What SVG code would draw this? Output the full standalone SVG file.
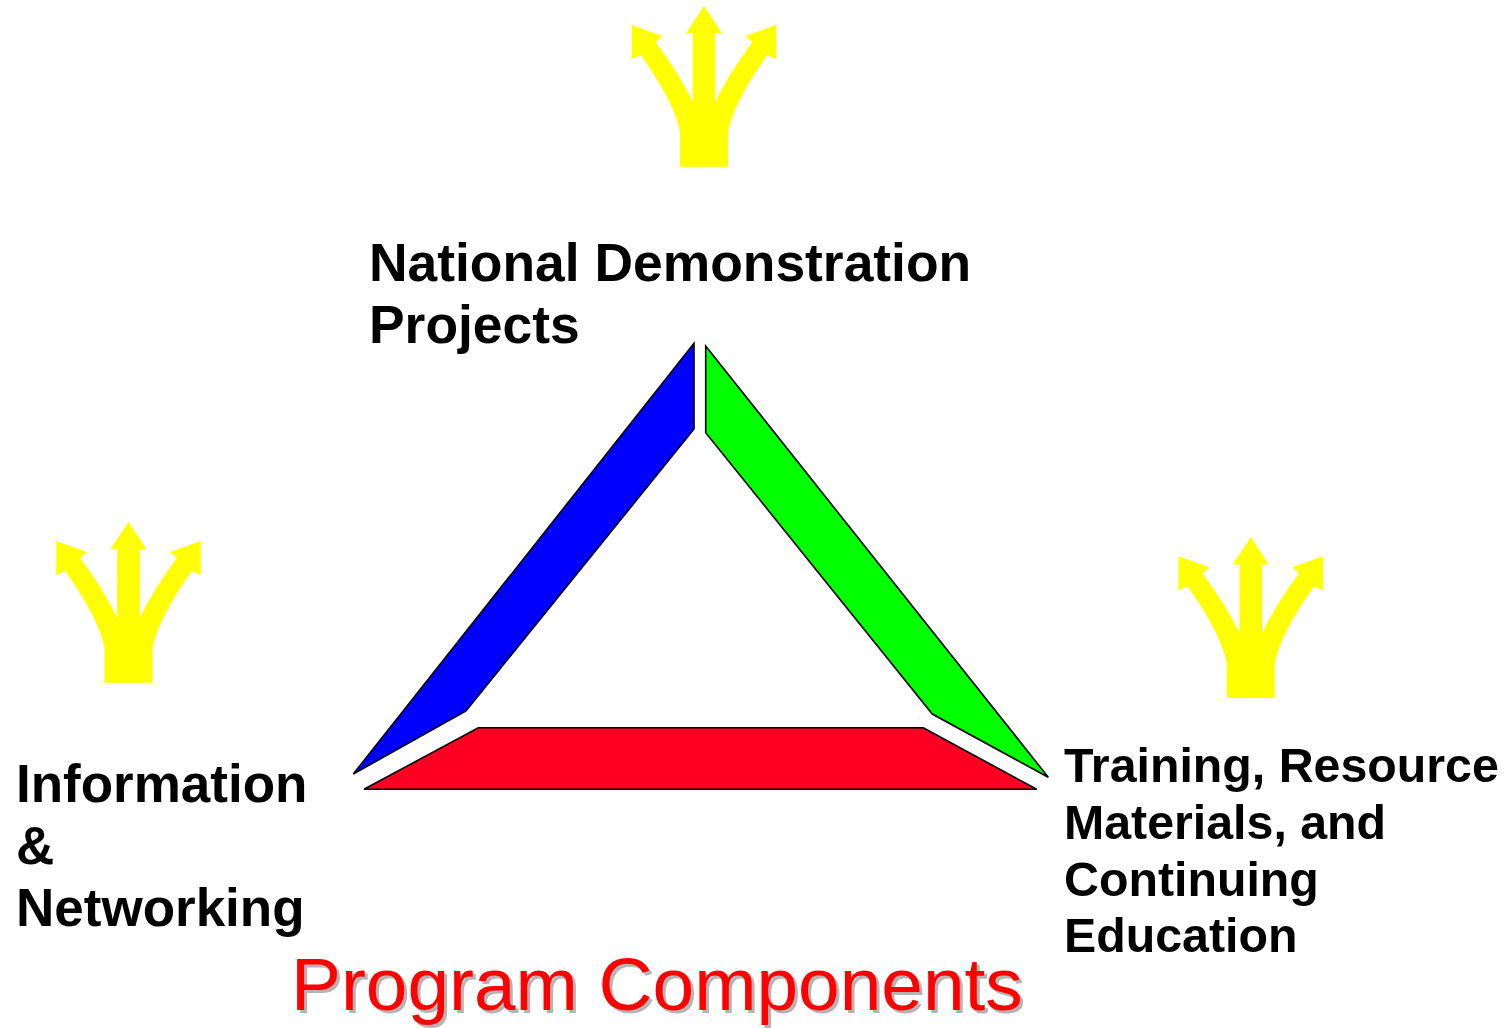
<svg xmlns="http://www.w3.org/2000/svg" width="1509" height="1028" viewBox="0 0 1509 1028">
<defs>
<style>
.lbl{font-family:"Liberation Sans",Arial,sans-serif;font-weight:bold;fill:#000}
.seg{stroke:#000;stroke-width:1.6;stroke-linejoin:miter}
.title{font-family:"Liberation Sans",Arial,sans-serif;font-size:74.8px}
</style>
<path id="fork" fill="#ffff00" d="M0,0 L18,27.6 L11.3,27.6 L11.3,96 Q26,66 48.3,36.6 L41.3,30.3 L72.3,19.3 L72.3,53.6 L63.3,49.3 Q30,96 24,126 L24,161 L-24,161 L-24,126 Q-30,96 -63.3,49.3 L-72.3,53.6 L-72.3,19.3 L-41.3,30.3 L-48.3,36.6 Q-26,66 -11.3,96 L-11.3,27.6 L-18,27.6 Z"/>
</defs>
<rect width="1509" height="1028" fill="#fff"/>
<g id="connectors">
<polygon id="seg-blue" class="seg" fill="#0000ff" points="694,343.3 694,429 466,711 353.3,774"/>
<polygon id="seg-green" class="seg" fill="#00ff00" points="705.7,346 705.7,432.7 932.3,714 1048.3,777.3"/>
<polygon id="seg-red" class="seg" fill="#ff0022" points="364,789.3 478.3,727.7 923.3,727.7 1036.7,789.3"/>
</g>
<g id="node-national">
<use href="#fork" transform="translate(704,5.7)"/>
<text class="lbl" font-size="53.4" x="369" y="281">National Demonstration</text>
<text class="lbl" font-size="53.4" x="369" y="343">Projects</text>
</g>
<g id="node-information">
<use href="#fork" transform="translate(128.5,521.7)"/>
<text class="lbl" font-size="53" x="16" y="802">Information</text>
<text class="lbl" font-size="53" x="16" y="864">&amp;</text>
<text class="lbl" font-size="53" x="16" y="926">Networking</text>
</g>
<g id="node-training">
<use href="#fork" transform="translate(1250.8,537)"/>
<text class="lbl" font-size="48.3" x="1064" y="781.5">Training, Resource</text>
<text class="lbl" font-size="48.3" x="1064" y="838.5">Materials, and</text>
<text class="lbl" font-size="48.3" x="1064" y="895.5">Continuing</text>
<text class="lbl" font-size="48.3" x="1064" y="952">Education</text>
</g>
<g id="title">
<text class="title" x="294" y="1013" fill="#b4b4b4">Program Components</text>
<text class="title" x="291" y="1010" fill="#ff0000">Program Components</text>
</g>
</svg>
